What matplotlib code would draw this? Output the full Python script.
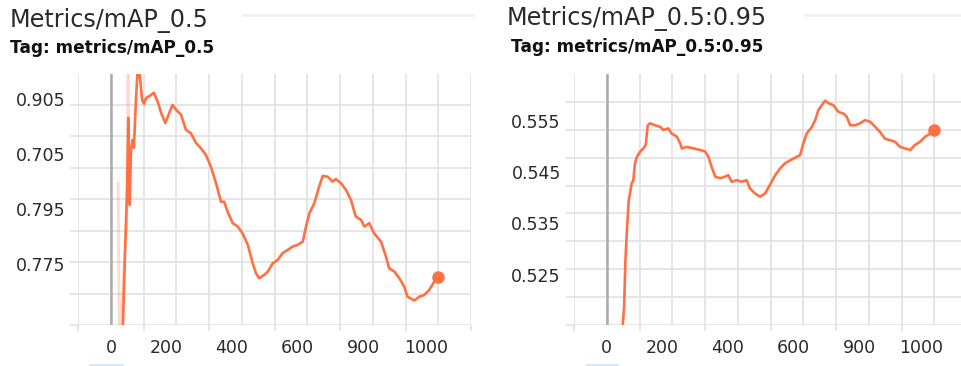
import numpy as np
import matplotlib
matplotlib.use("Agg")
import matplotlib.pyplot as plt
from matplotlib.transforms import ScaledTranslation

plt.rcParams['font.family'] = ['DejaVu Sans']

# ---------------- data ----------------
titles = ["Metrics/mAP_0.5", "Metrics/mAP_0.5:0.95"]
tags = ["Tag: metrics/mAP_0.5", "Tag: metrics/mAP_0.5:0.95"]

x_tick_pos = [0, 200, 400, 600, 800, 1000]
x_tick_labels = ["0", "200", "400", "600", "900", "1000"]

map50_tick_pos = [0.905, 0.885, 0.865, 0.845]
map50_tick_labels = ["0.905", "0.705", "0.795", "0.775"]
map5095_tick_pos = [0.555, 0.545, 0.535, 0.525]
map5095_tick_labels = ["0.555", "0.545", "0.535", "0.525"]

map50_steps = [35, 43, 49, 53, 57, 61, 66, 70, 76, 81, 87, 95, 101, 107, 119, 131, 144, 153,
               166, 178, 188, 199, 214, 229, 244, 260, 275, 290, 305, 321, 336, 346, 356,
               372, 387, 402, 418, 433, 443, 453, 468, 479, 494, 509, 524, 540, 555, 570,
               586, 596, 606, 621, 636, 647, 662, 677, 687, 703, 718, 733, 748, 764, 774,
               789, 804, 825, 840, 850, 866, 881, 896, 906, 927, 942, 957, 972, 988, 1000]
map50_vals = [0.8174, 0.8502, 0.8720, 0.8982, 0.8665, 0.8865, 0.8902, 0.8873, 0.9047,
              0.9149, 0.9149, 0.9047, 0.9033, 0.9054, 0.9062, 0.9073, 0.9036, 0.9000,
              0.8963, 0.9000, 0.9029, 0.9011, 0.8993, 0.8938, 0.8926, 0.8890, 0.8871,
              0.8847, 0.8805, 0.8744, 0.8677, 0.8677, 0.8641, 0.8599, 0.8587, 0.8562,
              0.8520, 0.8453, 0.8417, 0.8399, 0.8411, 0.8423, 0.8453, 0.8465, 0.8490,
              0.8502, 0.8514, 0.8520, 0.8532, 0.8587, 0.8635, 0.8671, 0.8732, 0.8771,
              0.8768, 0.8750, 0.8759, 0.8744, 0.8720, 0.8684, 0.8623, 0.8611, 0.8587,
              0.8599, 0.8562, 0.8532, 0.8478, 0.8435, 0.8423, 0.8399, 0.8368, 0.8332,
              0.8318, 0.8332, 0.8338, 0.8356, 0.8387, 0.8405]
map50_raw_steps = [22, 25, 48, 52, 56]
map50_raw_vals = [0.8745, 0.8160, 0.8600, 0.9160, 0.8700]

map5095_steps = [47, 53, 57, 61, 64, 67, 71, 76, 81, 86, 92, 102, 112, 119, 125, 132, 148,
                 163, 173, 188, 198, 214, 224, 229, 244, 265, 285, 300, 310, 320, 331, 346,
                 361, 371, 381, 397, 412, 427, 437, 453, 468, 483, 498, 514, 529, 544, 560,
                 575, 590, 600, 610, 626, 636, 646, 656, 666, 677, 692, 707, 722, 732, 743,
                 758, 773, 788, 804, 819, 834, 849, 865, 880, 895, 910, 926, 941, 956, 972,
                 987, 1000]
map5095_vals = [0.5136, 0.5188, 0.5279, 0.5330, 0.5363, 0.5395, 0.5408, 0.5428, 0.5434,
                0.5467, 0.5480, 0.5490, 0.5496, 0.5503, 0.5541, 0.5545, 0.5541, 0.5538,
                0.5532, 0.5535, 0.5525, 0.5519, 0.5506, 0.5496, 0.5499, 0.5496, 0.5493,
                0.5490, 0.5480, 0.5460, 0.5441, 0.5438, 0.5441, 0.5444, 0.5431, 0.5434,
                0.5431, 0.5434, 0.5418, 0.5408, 0.5402, 0.5408, 0.5425, 0.5444, 0.5457,
                0.5467, 0.5473, 0.5478, 0.5483, 0.5506, 0.5525, 0.5538, 0.5551, 0.5571,
                0.5580, 0.5589, 0.5584, 0.5580, 0.5567, 0.5564, 0.5558, 0.5541, 0.5541,
                0.5545, 0.5551, 0.5548, 0.5538, 0.5528, 0.5515, 0.5512, 0.5509, 0.5499,
                0.5496, 0.5493, 0.5503, 0.5509, 0.5519, 0.5525, 0.5532]

# ---------------- styling / layout ----------------
W, H = 961, 366
LINE = '#ff7043'
GRID = '#e4e4e4'
ZERO = '#ababab'

fig = plt.figure(figsize=(W / 100, H / 100), dpi=100)
fig.patch.set_facecolor('white')


def px_axes(x0, y0, x1, y1):
    return fig.add_axes([x0 / W, 1 - y1 / H, (x1 - x0) / W, (y1 - y0) / H])


panels = [
    dict(box=(78.3, 73.5, 471, 325), xlim=(-100, 1100), ylim=(0.8229, 0.9143), ngrid=8,
         steps=map50_steps, vals=map50_vals, raw=(map50_raw_steps, map50_raw_vals),
         yt=map50_tick_pos, ytl=map50_tick_labels, xoff=[0, -10, -10.5, -10, -9.5, -12.5],
         title_xy=(10, 26.7), tag_xy=(10, 53.3), rule=(243, 472)),
    dict(box=(574, 74, 961, 325), xlim=(-100, 1081), ylim=(0.5152, 0.5641), ngrid=9,
         steps=map5095_steps, vals=map5095_vals, raw=None,
         yt=map5095_tick_pos, ytl=map5095_tick_labels, xoff=[0, -10.5, -10.3, -10, -9.7, -13.5],
         title_xy=(507, 25), tag_xy=(511, 52), rule=(805, 961)),
]

for i, p in enumerate(panels):
    ax = px_axes(*p['box'])
    ax.set_xlim(*p['xlim'])
    ax.set_ylim(*p['ylim'])
    for s in ax.spines.values():
        s.set_visible(False)

    # grid
    ylo, yhi = p['ylim']
    gy = np.linspace(ylo, yhi, p['ngrid'] + 1)[:-1]
    gx = np.arange(-100, p['xlim'][1] + 1, 100)
    for y in gy:
        ax.axhline(y, color=GRID, lw=1.3, zorder=0)
    for x in gx:
        ax.axvline(x, color=GRID, lw=1.3, zorder=0)
    ax.axvline(0, color=ZERO, lw=1.8, zorder=1)

    # minor ticks mimic grid extensions
    ax.set_yticks(gy, minor=True)
    ax.set_xticks(gx, minor=True)
    ax.tick_params(which='minor', length=5.5, width=1.3, color=GRID, direction='out')
    ax.tick_params(axis='x', which='minor', length=4)

    ax.set_yticks(p['yt'])
    ax.set_yticklabels(p['ytl'])
    ax.set_xticks(x_tick_pos)
    ax.set_xticklabels(x_tick_labels)
    ax.tick_params(which='major', length=0, labelsize=12.5, labelcolor='#2a2a2a')
    ax.tick_params(axis='y', which='major', pad=9.5)
    ax.tick_params(axis='x', which='major', pad=10)
    for lab, off in zip(ax.get_xticklabels(), p['xoff']):
        lab.set_transform(lab.get_transform() + ScaledTranslation(off / 100, 0, fig.dpi_scale_trans))

    # data
    if p['raw'] is not None:
        ax.plot(p['raw'][0], p['raw'][1], color=LINE, alpha=0.25, lw=2.0, zorder=2)
    ax.plot(p['steps'], p['vals'], color=LINE, lw=1.9, zorder=3, solid_joinstyle='round')
    ax.plot([p['steps'][-1]], [p['vals'][-1]], 'o', color=LINE, ms=8, zorder=4, clip_on=False)

    # header
    tx, ty = p['title_xy']
    fig.text(tx / W, 1 - ty / H, titles[i], fontsize=17.2, color='#2a2a2a', va='baseline', ha='left')
    gx0, gy0 = p['tag_xy']
    fig.text(gx0 / W, 1 - gy0 / H, tags[i], fontsize=12.2, fontweight='bold', color='#111111',
             va='baseline', ha='left')
    r0, r1 = p['rule']
    fig.add_artist(plt.Line2D([r0 / W, r1 / W], [1 - 14.7 / H, 1 - 14.7 / H],
                              transform=fig.transFigure, color='#f0f0f0', lw=2))

# small UI remnants
fig.add_artist(plt.Line2D([90 / W, 122 / W], [1 - 365 / H, 1 - 365 / H],
                          transform=fig.transFigure, color='#d6e8f7', lw=2))
fig.add_artist(plt.Line2D([587 / W, 617 / W], [1 - 365 / H, 1 - 365 / H],
                          transform=fig.transFigure, color='#d6e8f7', lw=2))

fig.savefig('out.png', dpi=100, facecolor='white')
